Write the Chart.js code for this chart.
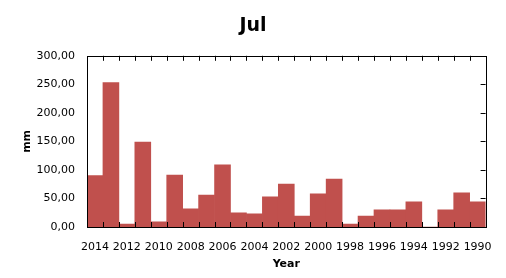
<!DOCTYPE html>
<html>
<head>
<meta charset="utf-8">
<script src="https://cdn.jsdelivr.net/npm/chart.js@4"></script>
<style>
  html, body { margin: 0; padding: 0; background: #fff; }
  #wrap { width: 506px; height: 278px; }
</style>
</head>
<body>
<div id="wrap"><canvas id="myChart" width="506" height="278"></canvas></div>
<script>
// Years shown on the x axis (newest first)
const years = ['2014', '2013', '2012', '2011', '2010', '2009', '2008', '2007', '2006', '2005',
    '2004', '2003', '2002', '2001', '2000', '1999', '1998', '1997', '1996', '1995',
    '1994', '1993', '1992', '1991', '1990'];

// July rainfall, mm
const rainfall = [90, 253, 5, 149, 9, 91, 32, 56, 109, 25,
    23, 53, 75, 19, 58, 84, 5, 19, 30, 30,
    44, 0, 30, 60, 44];

const yTicks = [0, 50, 100, 150, 200, 250, 300];

const fontFamily = '"DejaVu Sans", Verdana, sans-serif';

// Draw the frame and the small inward tick marks
const framePlugin = {
    id: 'frame',
    afterDatasetsDraw(chart) {
        const { ctx, chartArea, scales } = chart;
        const x = scales.x;
        const y = scales.y;
        ctx.save();
        ctx.strokeStyle = '#000';
        ctx.lineWidth = 1;
        ctx.beginPath();
        for (let i = 1; i < years.length; i++) {
            const px = Math.round((x.getPixelForValue(i - 1) + x.getPixelForValue(i)) / 2) + 0.5;
            ctx.moveTo(px, chartArea.bottom);
            ctx.lineTo(px, chartArea.bottom - 5);
            ctx.moveTo(px, chartArea.top);
            ctx.lineTo(px, chartArea.top + 5);
        }
        yTicks.slice(1, -1).forEach(v => {
            const py = Math.round(y.getPixelForValue(v)) + 0.5;
            ctx.moveTo(chartArea.right, py);
            ctx.lineTo(chartArea.right - 5, py);
        });
        ctx.stroke();
        ctx.strokeRect(Math.round(chartArea.left) + 0.5, Math.round(chartArea.top) + 0.5,
            Math.round(chartArea.right - chartArea.left), Math.round(chartArea.bottom - chartArea.top));
        ctx.restore();
    }
};

const ctx = document.getElementById('myChart').getContext('2d');
const chart = new Chart(ctx, {
    type: 'bar',
    data: {
        labels: years,
        datasets: [{
            label: 'mm',
            data: rainfall,
            backgroundColor: '#C0504D',
            borderWidth: 0,
            categoryPercentage: 1.0,
            barPercentage: 1.0
        }]
    },
    options: {
        responsive: false,
        animation: false,
        layout: { padding: 0 },
        plugins: {
            legend: { display: false },
            tooltip: { enabled: false },
            title: {
                display: true,
                text: 'Jul',
                color: '#000',
                font: { family: fontFamily, size: 19, weight: 'bold' },
                padding: { top: 15, bottom: 18 }
            }
        },
        scales: {
            x: {
                grid: { display: false, drawTicks: false },
                border: { display: false },
                ticks: {
                    autoSkip: false,
                    maxRotation: 0,
                    color: '#000',
                    padding: 14,
                    font: { family: fontFamily, size: 11 },
                    callback: function (value, index) {
                        return index % 2 === 0 ? years[index] : '';
                    }
                },
                title: {
                    display: true,
                    text: 'Year',
                    color: '#000',
                    font: { family: fontFamily, size: 11, weight: 'bold' },
                    padding: { top: 4, bottom: 7 }
                },
                afterFit(scale) { scale.height = 51; }
            },
            y: {
                min: 0,
                max: 300,
                grid: { display: false, drawTicks: false },
                border: { display: false },
                ticks: {
                    stepSize: 50,
                    color: '#000',
                    padding: 12,
                    font: { family: fontFamily, size: 11 },
                    callback: v => v.toFixed(2).replace('.', ',')
                },
                title: {
                    display: true,
                    text: 'mm',
                    color: '#000',
                    font: { family: fontFamily, size: 11, weight: 'bold' },
                    padding: { top: 21, bottom: 0 }
                },
                afterFit(scale) { scale.width = 87; }
            },
            y2: {
                position: 'right',
                display: true,
                grid: { display: false, drawTicks: false },
                border: { display: false },
                ticks: { display: false },
                afterFit(scale) { scale.width = 19; }
            }
        }
    },
    plugins: [framePlugin]
});
</script>
</body>
</html>
